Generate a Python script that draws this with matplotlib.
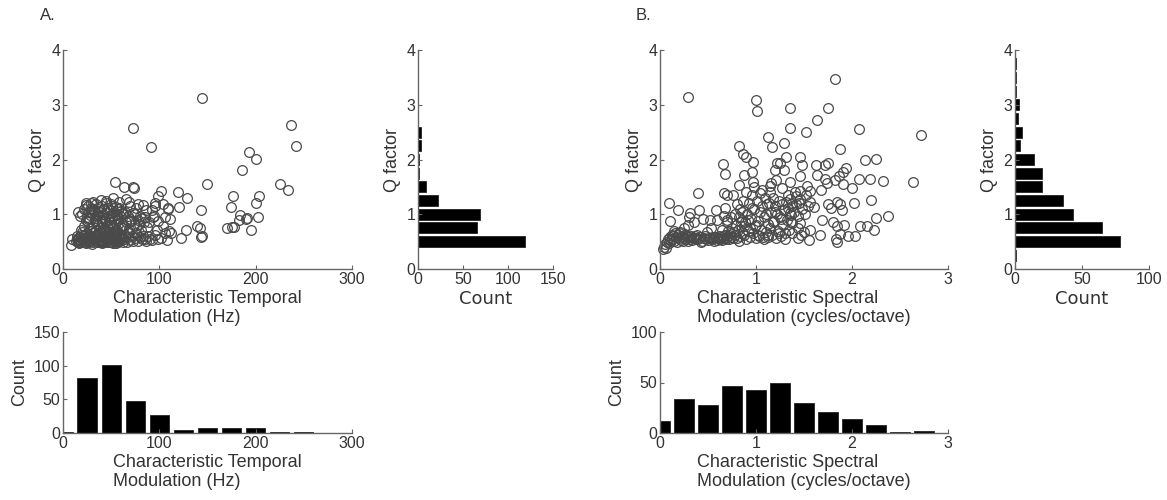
import matplotlib
matplotlib.use("Agg")
import matplotlib.pyplot as plt
import numpy as np

plt.rcParams['font.family'] = ['Liberation Sans', 'DejaVu Sans']

# ---------------- panel A: temporal modulation (Hz) vs Q factor ----------------
tm_x = [
    # sparse points
    72.5, 90.9, 144.6, 236.9, 241.4, 224.8, 233.8, 193.5, 200.8, 185.9, 149.2, 176.6,
    203.3, 174.9, 200.5, 184.2, 190.1, 191.5, 202.2, 195.3, 175.9, 178.0, 169.9, 183.1,
    143.6, 143.6, 144.3, 138.7, 142.2, 127.6, 122.4, 119.6, 128.3, 120.3, 109.3, 109.0,
    111.0, 101.3, 98.9, 95.7, 104.0, 94.7, 93.7, 97.1, 104.0, 105.8, 107.5, 111.7,
    91.9, 98.5, 88, 89, 90, 92, 95, 99, 102, 106, 110, 96,
    # 0-12.5
    8, 9,
    # 12.5-37.5
    14, 15, 16, 17, 18, 19, 20, 21, 22, 23, 24, 25, 26, 27, 28, 29, 30, 31, 32, 33, 34, 35, 36, 37,
    15, 17, 19, 21, 23, 25, 27, 29, 31, 33, 35, 37, 16, 20, 24, 28, 32, 36, 22, 30, 34,
    19, 22, 26, 29, 33, 36, 24, 31, 35, 28, 27, 34,
    15.6, 17.3, 23.6, 31.2, 20, 22, 25, 26, 27, 28, 29, 30, 32, 33, 34, 35, 36, 37, 26, 29, 33, 36, 24, 30,
    # 37.5-62.5
    38, 39, 40, 41, 42, 43, 44, 45, 46, 47, 48, 49, 50, 51, 52, 53, 54, 55, 56, 57, 58, 59, 60, 61, 62,
    38.5, 40.5, 42.5, 44.5, 46.5, 48.5, 50.5, 52.5, 54.5, 56.5, 58.5, 60.5,
    39.5, 43.5, 47.5, 51.5, 55.5, 59.5, 41.5, 49.5, 53.5, 57.5, 45.5, 61.5, 37.8,
    38, 40, 42, 44, 46, 48, 50, 52, 54, 56, 58, 60, 62, 41, 45, 49, 53, 57, 61, 43,
    39.9, 54.1, 52, 38, 40, 41, 42, 43, 44, 45, 46, 47, 48, 49, 50, 51, 53, 55, 56, 57, 58, 59, 60, 61,
    44.5, 47.5, 50.5, 55.5, 58.5, 62,
    # 62.5-87.5
    63, 64, 66, 67, 69, 70, 72, 73, 75, 77, 78, 80, 82, 83, 85, 86, 68, 76,
    63, 65, 68, 71, 74, 76, 79, 81, 84, 87, 70, 78,
    63.8, 65.9, 72.8, 74.2, 64, 67, 70, 73, 76, 78, 80, 83, 86, 68, 75, 82, 85,
]
tm_q = [
    2.58, 2.22, 3.12, 2.63, 2.24, 1.56, 1.44, 2.13, 2.01, 1.81, 1.56, 1.34,
    1.33, 1.13, 1.20, 0.99, 0.92, 0.93, 0.95, 0.72, 0.77, 0.77, 0.75, 0.89,
    1.07, 0.58, 0.60, 0.78, 0.75, 0.72, 0.57, 1.40, 1.29, 1.14, 1.12, 1.09,
    0.92, 1.43, 1.34, 1.20, 1.19, 0.96, 0.95, 0.72, 0.78, 0.66, 0.53, 0.66,
    0.53, 0.55, 0.60, 0.85, 0.55, 1.08, 0.62, 0.88, 0.56, 0.95, 0.70, 1.15,
    0.44, 0.55,
    0.52, 0.55, 0.50, 0.58, 0.53, 0.49, 0.56, 0.60, 0.52, 0.54, 0.50, 0.57, 0.53, 0.62, 0.51, 0.55, 0.58, 0.50, 0.54, 0.60, 0.52, 0.56, 0.49, 0.53,
    0.60, 0.48, 0.63, 0.51, 0.57, 0.65, 0.49, 0.61, 0.66, 0.51, 0.64, 0.58, 0.55, 0.67, 0.47, 0.59, 0.68, 0.50, 0.62, 0.46, 0.56,
    0.72, 0.78, 0.85, 0.74, 0.88, 0.80, 0.90, 0.76, 0.83, 0.70, 0.93, 0.71,
    1.05, 0.96, 1.20, 1.23, 1.00, 1.10, 0.95, 1.15, 1.05, 0.98, 1.12, 1.02, 1.08, 0.94, 1.18, 1.00, 1.06, 1.13, 0.92, 1.20, 1.03, 0.97, 1.16, 1.09,
    0.55, 0.50, 0.58, 0.52, 0.61, 0.49, 0.56, 0.53, 0.64, 0.51, 0.57, 0.60, 0.50, 0.55, 0.63, 0.52, 0.58, 0.48, 0.54, 0.62, 0.51, 0.57, 0.60, 0.53, 0.49,
    0.66, 0.47, 0.59, 0.68, 0.54, 0.50, 0.65, 0.57, 0.52, 0.67, 0.56, 0.62,
    0.52, 0.60, 0.55, 0.48, 0.61, 0.55, 0.64, 0.58, 0.66, 0.50, 0.49, 0.57, 0.62,
    0.75, 0.82, 0.71, 0.88, 0.78, 0.73, 0.85, 0.79, 0.90, 0.72, 0.84, 0.77, 0.74, 0.87, 0.70, 0.81, 0.76, 0.89, 0.80, 0.92,
    1.26, 1.58, 1.29, 1.05, 0.95, 1.15, 1.00, 1.10, 0.93, 1.20, 1.02, 1.12, 0.97, 1.07, 1.18, 0.94, 1.04, 1.13, 0.99, 1.09, 1.22, 0.96, 1.06, 1.02,
    1.25, 0.91, 1.15, 0.98, 1.11, 1.00,
    0.55, 0.62, 0.50, 0.58, 0.65, 0.53, 0.60, 0.51, 0.56, 0.63, 0.52, 0.58, 0.54, 0.61, 0.55, 0.52, 0.68, 0.66,
    0.78, 0.85, 0.73, 0.88, 0.80, 0.75, 0.83, 0.71, 0.86, 0.77, 0.92, 0.89,
    1.50, 1.28, 1.50, 1.48, 1.05, 0.97, 1.15, 1.02, 1.12, 1.19, 0.96, 1.17, 1.08, 1.22, 1.00, 0.94, 0.95,
]

tm_centers = [0, 25, 50, 75, 100, 125, 150, 175, 200, 225, 250]
tm_counts = [2, 81, 101, 47, 27, 5, 7, 7, 7, 2, 1]
qa_centers = [0.5, 0.75, 1.0, 1.25, 1.5, 1.75, 2.0, 2.25, 2.5]
qa_counts = [119, 66, 69, 22, 9, 1, 1, 3, 3]

# ---------------- panel B: spectral modulation (cyc/oct) vs Q factor ----------------
sm_x = [
    # sparse points
    0.29, 1.00, 1.01, 1.35, 1.35, 1.64, 1.75, 1.82, 2.07, 2.72, 1.52, 1.13, 1.29, 1.17,
    0.82, 1.87, 0.86, 0.90, 1.46, 1.31, 2.14, 2.25, 0.66, 0.68, 0.97, 0.96, 0.87, 0.82,
    0.97, 1.22, 1.25, 1.20, 1.29, 1.16, 1.15, 1.35, 1.46, 1.48, 1.62, 1.64, 1.72, 1.75,
    1.74, 1.82, 1.86, 1.91, 1.94, 1.91, 2.07, 2.00, 2.19, 2.32, 2.64, 0.40, 0.67, 0.70,
    0.09, 0.19, 0.31, 0.41, 0.10, 0.29, 0.52, 0.58, 0.59, 0.67, 0.70, 2.20, 2.02, 1.84,
    1.87, 1.90, 1.75, 1.69, 1.80, 1.92, 1.84, 2.08, 2.16, 2.25, 2.38, 2.23, 1.96, 2.03,
    1.88, 1.83, 1.84, 1.67, 1.55, 1.56, 1.44, 1.60, 1.56, 1.56, 1.53, 1.46, 1.42, 1.38,
    1.35, 1.44, 1.46, 1.37,
    # 0-0.125
    0.03, 0.04, 0.05, 0.06, 0.07, 0.08, 0.09, 0.10, 0.11, 0.12,
    # 0.125-0.375
    0.13, 0.14, 0.15, 0.16, 0.17, 0.18, 0.19, 0.20, 0.21, 0.22, 0.23, 0.24, 0.25, 0.26, 0.27,
    0.28, 0.29, 0.30, 0.31, 0.32, 0.33, 0.34, 0.35, 0.36, 0.37, 0.15, 0.20, 0.25, 0.30, 0.35,
    # 0.375-0.625
    0.38, 0.40, 0.42, 0.44, 0.46, 0.48, 0.50, 0.52, 0.54, 0.56, 0.58, 0.60, 0.62,
    0.39, 0.43, 0.47, 0.51, 0.55, 0.59, 0.61, 0.45, 0.53, 0.49,
    # 0.625-0.875
    0.63, 0.64, 0.65, 0.66, 0.67, 0.68, 0.69, 0.70, 0.71, 0.72, 0.73, 0.74, 0.75, 0.76, 0.77,
    0.78, 0.79, 0.80, 0.81, 0.82, 0.83, 0.84, 0.85, 0.86, 0.87,
    0.65, 0.70, 0.74, 0.78, 0.80, 0.83, 0.85, 0.86, 0.72, 0.76, 0.82, 0.68,
    # 0.875-1.125
    0.88, 0.89, 0.90, 0.91, 0.92, 0.93, 0.94, 0.95, 0.96, 0.97, 0.98, 0.99, 1.00, 1.01, 1.02,
    1.03, 1.04, 1.05, 1.06, 1.07, 1.08, 1.09, 1.10, 1.11, 1.12,
    0.90, 0.94, 0.98, 1.02, 1.06, 1.10, 0.92, 0.96, 1.00, 1.04, 1.08, 1.12,
    # 1.125-1.375
    1.13, 1.14, 1.15, 1.16, 1.17, 1.18, 1.19, 1.20, 1.21, 1.22, 1.23, 1.24, 1.25, 1.26, 1.27,
    1.28, 1.29, 1.30, 1.31, 1.32, 1.33, 1.34, 1.35, 1.36, 1.37,
    1.15, 1.18, 1.21, 1.24, 1.27, 1.30, 1.33, 1.36, 1.20, 1.26,
    # 1.375-1.625
    1.38, 1.40, 1.42, 1.44, 1.46, 1.48, 1.50, 1.52, 1.54, 1.41, 1.47, 1.51, 1.45,
    # 1.625-1.875
    1.68, 1.72, 1.78,
]
sm_q = [
    3.14, 3.08, 2.88, 2.94, 2.58, 2.72, 2.94, 3.47, 2.55, 2.45, 2.51, 2.41, 2.30, 2.22,
    2.24, 2.19, 2.10, 2.05, 2.05, 2.04, 1.99, 2.01, 1.91, 1.73, 1.95, 1.78, 1.72, 1.54,
    1.59, 1.93, 1.93, 1.81, 1.81, 1.57, 1.51, 1.59, 1.70, 1.90, 1.90, 1.71, 1.90, 1.93,
    1.57, 1.63, 1.69, 1.78, 1.84, 1.55, 1.64, 1.48, 1.64, 1.60, 1.58, 1.39, 1.39, 1.36,
    1.20, 1.08, 1.02, 1.08, 0.87, 0.81, 0.90, 1.08, 0.90, 0.96, 0.90, 1.26, 1.20, 1.23,
    1.19, 1.07, 1.19, 0.90, 0.85, 0.80, 0.78, 0.78, 0.78, 0.93, 0.97, 0.72, 0.61, 0.61,
    0.64, 0.55, 0.49, 0.63, 0.53, 0.72, 0.57, 1.14, 1.22, 1.42, 1.51, 1.42, 1.33, 1.20,
    1.02, 0.96, 0.84, 0.84,
    0.36, 0.40, 0.45, 0.38, 0.50, 0.55, 0.48, 0.58, 0.52, 0.62,
    0.55, 0.60, 0.52, 0.65, 0.58, 0.50, 0.62, 0.56, 0.68, 0.53, 0.59, 0.51, 0.57, 0.63, 0.54,
    0.60, 0.52, 0.58, 0.55, 0.61, 0.53, 0.57, 0.56, 0.60, 0.54, 0.70, 0.66, 0.75, 0.95, 0.85,
    0.57, 0.54, 0.58, 0.52, 0.56, 0.55, 0.53, 0.57, 0.55, 0.52, 0.58, 0.56, 0.54,
    0.62, 0.50, 0.60, 0.56, 0.59, 0.53, 0.61, 0.92, 0.75, 0.68,
    0.55, 0.58, 0.53, 0.60, 0.56, 0.62, 0.54, 0.58, 0.70, 0.55, 0.65, 0.59, 0.75, 0.57, 0.68,
    0.62, 0.80, 0.56, 0.72, 0.95, 0.60, 0.85, 1.05, 0.66, 0.78,
    0.72, 0.85, 0.95, 1.00, 1.18, 1.10, 0.90, 1.25, 0.63, 1.35, 0.52, 1.12,
    0.62, 0.85, 0.55, 1.00, 0.70, 1.20, 0.58, 0.92, 1.35, 0.65, 1.10, 0.78, 0.56, 1.25, 0.88,
    0.60, 1.05, 0.72, 1.15, 0.58, 0.95, 1.30, 0.68, 1.18, 0.82,
    1.40, 0.75, 1.50, 0.62, 1.45, 1.00, 0.90, 1.12, 0.80, 1.38, 0.55, 0.62,
    0.58, 1.20, 0.75, 1.05, 0.62, 1.30, 0.88, 1.15, 0.57, 1.00, 0.70, 1.25, 0.95, 0.60, 1.18,
    0.80, 1.08, 0.65, 1.22, 0.90, 1.12, 0.72, 1.28, 0.98, 1.15,
    1.40, 0.85, 1.62, 0.66, 1.48, 0.55, 1.35, 0.85, 1.05, 0.92,
    0.65, 1.05, 1.18, 0.75, 1.28, 1.10, 0.68, 1.35, 1.15, 1.40, 0.62, 1.00, 1.20,
    1.45, 1.65, 1.12,
]

sm_centers = [0, 0.25, 0.5, 0.75, 1.0, 1.25, 1.5, 1.75, 2.0, 2.25, 2.5, 2.75]
sm_counts = [12, 34, 28, 47, 43, 50, 30, 21, 14, 8, 1, 2]
qb_centers = [0.25, 0.5, 0.75, 1.0, 1.25, 1.5, 1.75, 2.0, 2.25, 2.5, 2.75, 3.0, 3.25, 3.5, 3.75]
qb_counts = [1, 78, 65, 43, 36, 20, 20, 14, 4, 5, 2, 3, 1, 1, 1]

txt = '#333333'
axcol = '#666666'


def style(ax):
    for s in ['top', 'right']:
        ax.spines[s].set_visible(False)
    for s in ['left', 'bottom']:
        ax.spines[s].set_color(axcol)
        ax.spines[s].set_linewidth(1.0)
    ax.tick_params(direction='in', length=3, width=0.8, color=axcol,
                   labelsize=11.5, labelcolor=txt, pad=2)


fig = plt.figure(figsize=(11.67, 5), dpi=100)

W = 1167.0
H = 500.0


def add(x0, x1, y0, y1):
    return fig.add_axes([x0 / W, 1 - y1 / H, (x1 - x0) / W, (y1 - y0) / H])


def scatter_panel(ax, x, q, xmax, xt, xlab):
    ax.plot(x, q, 'o', ms=7, mfc='none', mec='#4a4a4a', mew=0.9, clip_on=False)
    ax.set_xlim(0, xmax)
    ax.set_ylim(0, 4)
    ax.set_xticks(xt)
    ax.set_yticks([0, 1, 2, 3, 4])
    ax.set_ylabel('Q factor', fontsize=13, color=txt, labelpad=4)
    ax.set_xlabel(xlab, fontsize=13, color=txt, multialignment='left', labelpad=2)
    style(ax)


def right_hist(ax, centers, counts, xmax, xt, step):
    ax.barh(centers, counts, height=step * 0.8, color='black', edgecolor='#222222', lw=0.6)
    ax.set_xlim(0, xmax)
    ax.set_ylim(0, 4)
    ax.set_xticks(xt)
    ax.set_yticks([0, 1, 2, 3, 4])
    ax.set_ylabel('Q factor', fontsize=13, color=txt, labelpad=4)
    ax.set_xlabel('Count', fontsize=13, color=txt, family='DejaVu Sans', labelpad=2)
    style(ax)


def bottom_hist(ax, centers, counts, step, xmax, xt, ymax, yt, xlab):
    ax.bar(centers, counts, width=step * 0.8, color='black', edgecolor='#222222', lw=0.6)
    ax.set_xlim(0, xmax)
    ax.set_ylim(0, ymax)
    ax.set_xticks(xt)
    ax.set_yticks(yt)
    ax.set_ylabel('Count', fontsize=13, color=txt, labelpad=4)
    ax.set_xlabel(xlab, fontsize=13, color=txt, multialignment='left', labelpad=2)
    style(ax)


lab_a = 'Characteristic Temporal\nModulation (Hz)'
lab_b = 'Characteristic Spectral\nModulation (cycles/octave)'

ax1 = add(63, 352, 50, 269)
scatter_panel(ax1, tm_x, tm_q, 300, [0, 100, 200, 300], lab_a)
ax2 = add(418, 553, 50, 269)
right_hist(ax2, qa_centers, qa_counts, 150, [0, 50, 100, 150], 0.25)
ax3 = add(63, 352, 332, 433)
bottom_hist(ax3, tm_centers, tm_counts, 25, 300, [0, 100, 200, 300], 150, [0, 50, 100, 150], lab_a)

ax4 = add(660, 948, 50, 269)
scatter_panel(ax4, sm_x, sm_q, 3, [0, 1, 2, 3], lab_b)
ax5 = add(1015, 1149, 50, 269)
right_hist(ax5, qb_centers, qb_counts, 100, [0, 50, 100], 0.25)
ax6 = add(660, 948, 332, 433)
bottom_hist(ax6, sm_centers, sm_counts, 0.25, 3, [0, 1, 2, 3], 100, [0, 50, 100], lab_b)

fig.text(40 / W, 1 - 15 / H, 'A.', fontsize=12, color=txt, va='center')
fig.text(636 / W, 1 - 15 / H, 'B.', fontsize=12, color=txt, va='center')

fig.savefig('out.png', dpi=100, facecolor='white')
